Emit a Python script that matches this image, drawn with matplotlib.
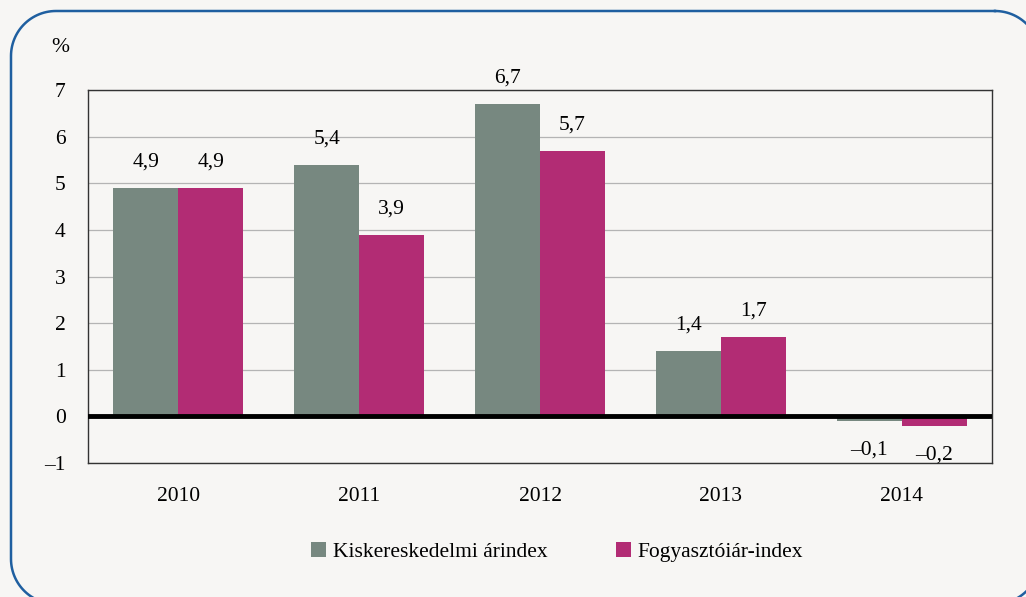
import numpy as np
import matplotlib

matplotlib.use("Agg")
import matplotlib.pyplot as plt

years = ["2010", "2011", "2012", "2013", "2014"]
retail = [4.9, 5.4, 6.7, 1.4, -0.1]
cpi = [4.9, 3.9, 5.7, 1.7, -0.2]
retail_labels = ["4,9", "5,4", "6,7", "1,4", "\u20130,1"]
cpi_labels = ["4,9", "3,9", "5,7", "1,7", "\u20130,2"]
series_names = ["Kiskereskedelmi árindex", "Fogyasztóiár-index"]

BG = "#f7f6f4"
GRAY = "#778880"
MAGENTA = "#b22c74"
FS = 15.5

plt.rcParams["font.family"] = ["Liberation Serif", "DejaVu Serif"]

fig = plt.figure(figsize=(10.26, 5.97), dpi=100, facecolor=BG)


def rounded_outline(x0, y0, x1, y1, r, n=30):
    # corners of a rounded rectangle, y measured downward in pixels
    pts = []
    for cx, cy, a0 in ((x1 - r, y0 + r, -90), (x1 - r, y1 - r, 0),
                       (x0 + r, y1 - r, 90), (x0 + r, y0 + r, 180)):
        a = np.radians(np.linspace(a0, a0 + 90, n))
        pts.append(np.column_stack([cx + r * np.cos(a), cy + r * np.sin(a)]))
    pts = np.vstack(pts + [pts[0][:1]])
    return pts[:, 0], pts[:, 1]


# frame in pixel units, running off the right and bottom edges
bg_ax = fig.add_axes([0, 0, 1, 1], zorder=-1)
bg_ax.set_xlim(0, 1026)
bg_ax.set_ylim(597, 0)
bg_ax.axis("off")
fx, fy = rounded_outline(11, 11, 1040, 604, 45)
bg_ax.plot(fx, fy, color="#1f5fa0", linewidth=1.8, clip_on=False)

ax = fig.add_axes([88 / 1026, 1 - 463 / 597, 904 / 1026, 373 / 597])
ax.set_facecolor(BG)

x = np.arange(len(years))
w = 0.36
ax.bar(x - w / 2, retail, w, color=GRAY, label=series_names[0], zorder=2)
ax.bar(x + w / 2, cpi, w, color=MAGENTA, label=series_names[1], zorder=2)

for xs, vals, labels in ((x - w / 2, retail, retail_labels), (x + w / 2, cpi, cpi_labels)):
    for xi, v, t in zip(xs, vals, labels):
        y = v + 0.55 if v > 0 else v - 0.62
        ax.text(xi, y, t, ha="center", va="center", fontsize=FS)

ax.set_xlim(-0.5, len(years) - 0.5)
ax.set_ylim(-1, 7)
ax.set_yticks(range(-1, 8))
ax.set_yticklabels(["\u20131"] + [str(i) for i in range(0, 8)])
ax.set_xticks(x)
ax.set_xticklabels(years)
ax.tick_params(length=0, labelsize=FS)
ax.tick_params(axis="x", pad=17)
ax.tick_params(axis="y", pad=16)
ax.yaxis.grid(True, color="#b4b4b4", linewidth=0.9, zorder=0)
ax.axhline(0, color="black", linewidth=3.5, zorder=3)
for s in ax.spines.values():
    s.set_color("#333333")
    s.set_linewidth(1.0)

fig.text(60 / 1026, 1 - 47 / 597, "%", fontsize=FS, ha="center", va="center")

fig.legend(loc="center", bbox_to_anchor=(0.543, 1 - 552 / 597), ncol=2,
           frameon=False, fontsize=FS, handlelength=0.7, handleheight=0.7,
           handletextpad=0.3, columnspacing=3.2)

fig.savefig("out.png", dpi=100, facecolor=BG)
